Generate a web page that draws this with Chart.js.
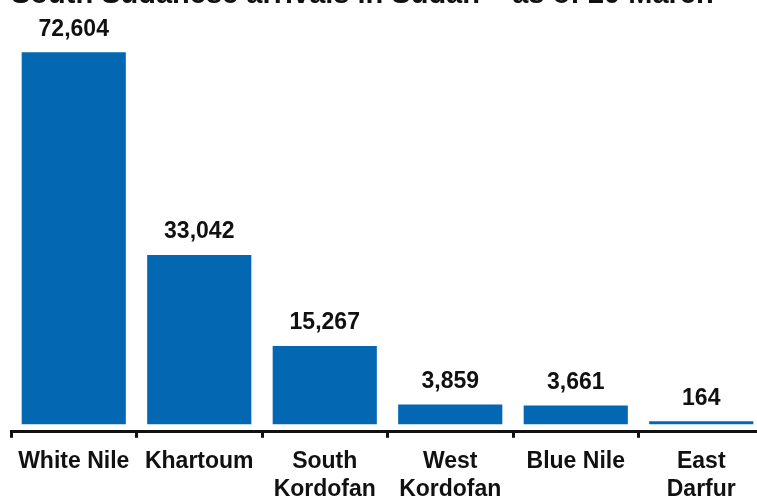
<!DOCTYPE html>
<html>
<head>
<meta charset="utf-8">
<script src="https://cdn.jsdelivr.net/npm/chart.js@4.4.1/dist/chart.umd.min.js"></script>
<style>
  html, body { margin: 0; padding: 0; background: #fff; overflow: hidden; width: 757px; height: 497px; }
  #wrap { position: absolute; left: 0; top: -22px; width: 768px; height: 535px; }
</style>
</head>
<body>
<div id="wrap"><canvas id="c" width="768" height="535"></canvas></div>
<script>
const titleText = 'South Sudanese arrivals in Sudan \u2013 as of 20 March';
const categories = [['White Nile'], ['Khartoum'], ['South', 'Kordofan'], ['West', 'Kordofan'], ['Blue Nile'], ['East', 'Darfur']];
const arrivals = [72604, 33042, 15267, 3859, 3661, 164];

const FONT = '"Liberation Sans", Arial, sans-serif';

const valueLabels = {
  id: 'valueLabels',
  afterDatasetsDraw(chart) {
    const ctx = chart.ctx;
    const meta = chart.getDatasetMeta(0);
    ctx.save();
    ctx.fillStyle = '#111';
    ctx.font = 'bold 23px ' + FONT;
    ctx.textAlign = 'center';
    ctx.textBaseline = 'middle';
    meta.data.forEach((bar, i) => {
      ctx.fillText(arrivals[i].toLocaleString('en-US'), bar.x, bar.y - 23);
    });
    ctx.restore();
  }
};

new Chart(document.getElementById('c'), {
  type: 'bar',
  data: {
    labels: categories,
    datasets: [{
      data: arrivals,
      backgroundColor: '#0467b2',
      borderWidth: 0,
      barPercentage: 0.83,
      categoryPercentage: 1.0,
      minBarLength: 3
    }]
  },
  options: {
    responsive: false,
    animation: false,
    layout: { padding: { left: 11, right: 4, top: 0, bottom: 0 } },
    plugins: {
      legend: { display: false },
      tooltip: { enabled: false },
      title: {
        display: true,
        text: titleText,
        align: 'start',
        color: '#111',
        font: { family: FONT, size: 29, weight: 'bold' },
        padding: { top: 0, bottom: 3 }
      }
    },
    scales: {
      x: {
        border: { display: true, color: '#111', width: 3 },
        grid: { display: true, drawOnChartArea: false, drawTicks: true, tickLength: 6, color: '#111', lineWidth: 3, offset: true },
        ticks: { color: '#111', font: { family: FONT, size: 23, weight: 'bold', lineHeight: 1.2 }, padding: 10, maxRotation: 0, autoSkip: false }
      },
      y: {
        display: false,
        min: -1460,
        max: 79710
      }
    }
  },
  plugins: [valueLabels]
});
</script>
</body>
</html>
